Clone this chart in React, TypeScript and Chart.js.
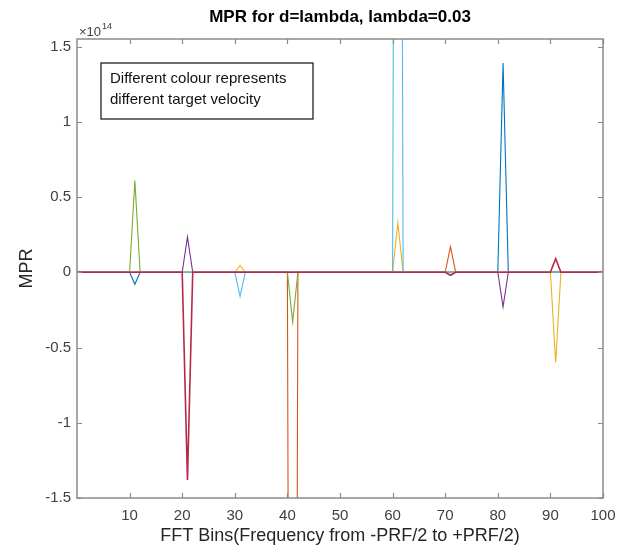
import React, { useEffect, useRef } from 'react';
import { Chart, registerables } from 'chart.js';

Chart.register(...registerables);

// ---- text ----
const TITLE = 'MPR for d=lambda, lambda=0.03';
const X_LABEL = 'FFT Bins(Frequency from -PRF/2 to +PRF/2)';
const Y_LABEL = 'MPR';
const NOTE_LINES = ['Different colour represents', 'different target velocity'];
const EXPONENT_BASE = '\u00d710';
const EXPONENT_POWER = '14';

// ---- axes ----
const X_MIN = 0;
const X_MAX = 100;
const Y_MIN = -1.5;
const Y_MAX = 1.55;
const xTickValues = [10, 20, 30, 40, 50, 60, 70, 80, 90, 100];
const yTickValues = [-1.5, -1, -0.5, 0, 0.5, 1, 1.5];
const yTickLabels = ['-1.5', '-1', '-0.5', '0', '0.5', '1', '1.5'];

// ---- data: MPR (x 1e14) is zero on every FFT bin 0..100 except these spikes ----
const BIN_COUNT = 101;
const blueBins = [11, 81];
const blueValues = [-0.08, 1.39];
const orangeBins = [41, 71];
const orangeValues = [-12, 0.17];
const yellowBins = [31, 61, 91];
const yellowValues = [0.045, 0.33, -0.6];
const purpleBins = [21, 81];
const purpleValues = [0.235, -0.23];
const greenBins = [11, 41];
const greenValues = [0.61, -0.33];
const lightBlueBins = [31, 61];
const lightBlueValues = [-0.16, 12];
const darkRedBins = [21, 71, 91];
const darkRedValues = [-1.38, -0.02, 0.09];

const SERIES = [
  { name: 'v1', color: '#0072BD', bins: blueBins, values: blueValues },
  { name: 'v2', color: '#D95319', bins: orangeBins, values: orangeValues },
  { name: 'v3', color: '#EDB120', bins: yellowBins, values: yellowValues },
  { name: 'v4', color: '#7E2F8E', bins: purpleBins, values: purpleValues },
  { name: 'v5', color: '#77AC30', bins: greenBins, values: greenValues },
  { name: 'v6', color: '#4DBEEE', bins: lightBlueBins, values: lightBlueValues },
  { name: 'v7', color: '#B8284A', bins: darkRedBins, values: darkRedValues },
];

const FONT = '"Liberation Sans", Arial, Helvetica, sans-serif';
const AXIS_COLOR = '#8a8a8a';
const TICK_TEXT = '#404040';

function buildData(bins: number[], values: number[]) {
  const pts: { x: number; y: number }[] = [];
  for (let b = 0; b < BIN_COUNT; b++) {
    const k = bins.indexOf(b);
    pts.push({ x: b, y: k >= 0 ? values[k] : 0 });
  }
  return pts;
}

const framePlugin = {
  id: 'matlabFrame',
  afterDatasetsDraw(chart: any) {
    const { ctx, chartArea: a, scales } = chart;
    const xs = scales.x;
    const ys = scales.y;
    ctx.save();
    // box
    ctx.strokeStyle = AXIS_COLOR;
    ctx.lineWidth = 1.5;
    ctx.strokeRect(a.left, a.top, a.right - a.left, a.bottom - a.top);
    // inward ticks
    const TL = 5;
    ctx.beginPath();
    for (const v of xTickValues) {
      const px = Math.round(xs.getPixelForValue(v)) + 0.5;
      ctx.moveTo(px, a.bottom);
      ctx.lineTo(px, a.bottom - TL);
      ctx.moveTo(px, a.top);
      ctx.lineTo(px, a.top + TL);
    }
    for (const v of yTickValues) {
      const py = Math.round(ys.getPixelForValue(v)) + 0.5;
      ctx.moveTo(a.left, py);
      ctx.lineTo(a.left + TL, py);
      ctx.moveTo(a.right, py);
      ctx.lineTo(a.right - TL, py);
    }
    ctx.lineWidth = 1.2;
    ctx.stroke();

    // exponent label
    ctx.fillStyle = TICK_TEXT;
    ctx.textAlign = 'left';
    ctx.textBaseline = 'alphabetic';
    ctx.font = `13px ${FONT}`;
    ctx.fillText(EXPONENT_BASE, a.left + 2, a.top - 3);
    const w = ctx.measureText(EXPONENT_BASE).width;
    ctx.font = `9px ${FONT}`;
    ctx.fillText(EXPONENT_POWER, a.left + 2 + w + 1, a.top - 10);

    // title
    ctx.fillStyle = '#000';
    ctx.font = `bold 17px ${FONT}`;
    ctx.textAlign = 'center';
    ctx.textBaseline = 'middle';
    ctx.fillText(TITLE, (a.left + a.right) / 2, 17);

    // note box
    const bx = a.left + 24;
    const by = a.top + 24;
    const bw = 212;
    const bh = 56;
    ctx.fillStyle = '#fff';
    ctx.fillRect(bx, by, bw, bh);
    ctx.strokeStyle = '#222';
    ctx.lineWidth = 1.3;
    ctx.strokeRect(bx, by, bw, bh);
    ctx.fillStyle = '#111';
    ctx.font = `15px ${FONT}`;
    ctx.textAlign = 'left';
    ctx.textBaseline = 'middle';
    NOTE_LINES.forEach((t, i) => ctx.fillText(t, bx + 9, by + 16 + i * 21));
    ctx.restore();
  },
};

export default function App() {
  const ref = useRef<HTMLCanvasElement | null>(null);
  useEffect(() => {
    document.body.style.margin = '0';
    const canvas = ref.current;
    if (!canvas) return;
    const chart = new Chart(canvas, {
      type: 'line',
      data: {
        datasets: SERIES.map((s, i) => ({
          label: s.name,
          data: buildData(s.bins, s.values),
          borderColor: s.color,
          backgroundColor: s.color,
          borderWidth: i === SERIES.length - 1 ? 1.6 : 1.1,
          pointRadius: 0,
          tension: 0,
          fill: false,
          order: SERIES.length - 1 - i,
        })),
      },
      options: {
        responsive: false,
        animation: false,
        parsing: true,
        layout: { padding: { top: 39, right: 26, left: 0, bottom: 0 } },
        plugins: {
          legend: { display: false },
          title: { display: false },
          tooltip: { enabled: false },
        },
        scales: {
          x: {
            type: 'linear',
            min: X_MIN,
            max: X_MAX,
            grid: { display: false, drawTicks: false, tickLength: 0 },
            border: { display: false },
            afterBuildTicks: (s: any) => {
              s.ticks = xTickValues.map((v) => ({ value: v }));
            },
            afterFit: (s: any) => {
              s.height = 52;
            },
            ticks: {
              color: TICK_TEXT,
              font: { family: FONT, size: 15 },
              padding: 9,
              maxRotation: 0,
              autoSkip: false,
              callback: (v: any) => String(v),
            },
            title: {
              display: true,
              text: X_LABEL,
              color: '#262626',
              font: { family: FONT, size: 18 },
              padding: { top: 0, bottom: 3 },
            },
          },
          y: {
            type: 'linear',
            min: Y_MIN,
            max: Y_MAX,
            grid: { display: false, drawTicks: false, tickLength: 0 },
            border: { display: false },
            afterBuildTicks: (s: any) => {
              s.ticks = yTickValues.map((v) => ({ value: v }));
            },
            afterFit: (s: any) => {
              s.width = 77;
            },
            ticks: {
              color: TICK_TEXT,
              font: { family: FONT, size: 15 },
              padding: 6,
              autoSkip: false,
              callback: (v: any) => {
                const k = yTickValues.indexOf(Number(v));
                return k >= 0 ? yTickLabels[k] : '';
              },
            },
            title: {
              display: true,
              text: Y_LABEL,
              color: '#262626',
              font: { family: FONT, size: 18 },
              padding: { top: 16, bottom: 0 },
            },
          },
        },
      },
      plugins: [framePlugin],
    });
    return () => chart.destroy();
  }, []);
  return (
    <div style={{ width: 629, height: 550, background: '#fff' }}>
      <canvas ref={ref} width={629} height={550} style={{ display: 'block' }} />
    </div>
  );
}
